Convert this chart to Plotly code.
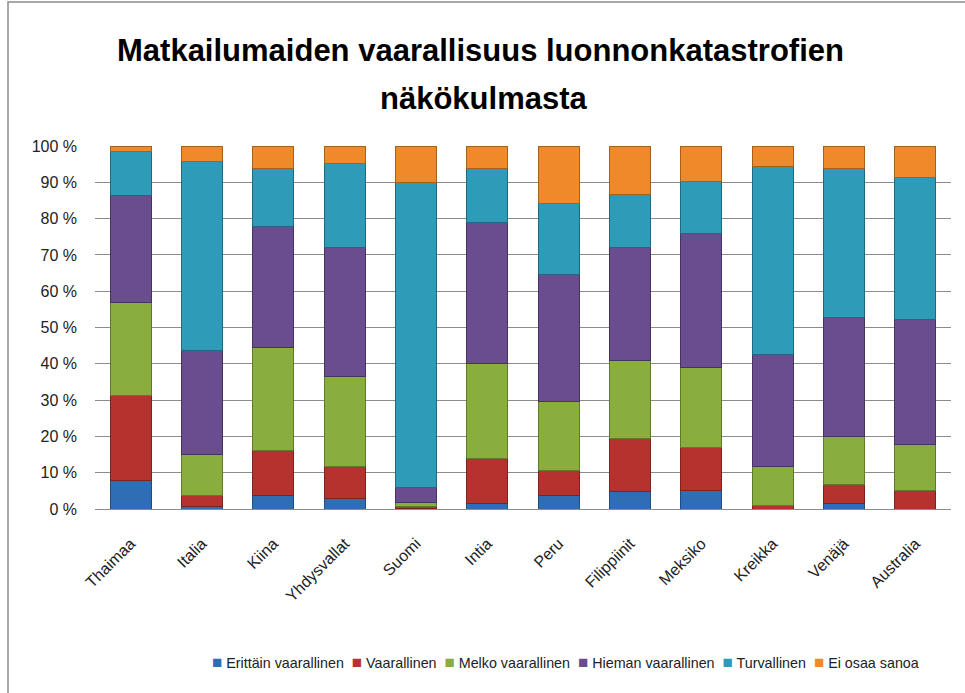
import plotly.graph_objects as go

countries = ["Thaimaa", "Italia", "Kiina", "Yhdysvallat", "Suomi", "Intia", "Peru",
             "Filippiinit", "Meksiko", "Kreikka", "Venäjä", "Australia"]

erittain = [7.8, 0.6, 3.7, 2.8, 0.2, 1.6, 3.6, 4.8, 5.1, 0.0, 1.4, 0.0]
vaarallinen = [23.4, 3.1, 12.4, 9.0, 0.4, 12.2, 6.9, 14.5, 11.9, 0.9, 5.4, 5.1]
melko = [25.6, 11.3, 28.4, 24.6, 1.2, 26.3, 19.0, 21.7, 22.0, 10.9, 13.1, 12.8]
hieman = [29.5, 28.8, 33.2, 35.7, 4.1, 38.8, 35.1, 31.0, 36.8, 30.8, 32.8, 34.4]
turvallinen = [12.1, 52.0, 16.1, 23.2, 84.1, 15.0, 19.6, 14.7, 14.5, 51.8, 41.1, 39.0]
ei_osaa = [1.6, 4.2, 6.2, 4.7, 10.0, 6.1, 15.8, 13.3, 9.7, 5.6, 6.2, 8.7]

y_ticks = list(range(0, 101, 10))
y_tick_labels = [f"{v} %" for v in y_ticks]

series = [
    ("Erittäin vaarallinen", erittain, "#2F6DB5", "#1F4E85"),
    ("Vaarallinen", vaarallinen, "#B5322F", "#7E2220"),
    ("Melko vaarallinen", melko, "#8AAE3E", "#5F7A2A"),
    ("Hieman vaarallinen", hieman, "#6A4D8E", "#47335F"),
    ("Turvallinen", turvallinen, "#2E9BB8", "#1D6A80"),
    ("Ei osaa sanoa", ei_osaa, "#EE8A2A", "#A85F1A"),
]

font_main = "Liberation Sans, Arial, sans-serif"

fig = go.Figure()
for name, vals, col, edge in series:
    fig.add_trace(go.Bar(
        x=countries, y=vals, name=name,
        marker=dict(color=col, line=dict(color=edge, width=1)),
    ))

# custom compact legend (text), drawn as one centered annotation
legend_parts = []
for name, vals, col, edge in series:
    legend_parts.append(
        f"<span style='color:{col};font-size:17px'>■</span> {name}"
    )
legend_text = "  ".join(legend_parts)

PL, PR, PT, PB = 95, 951, 146, 509
PW, PH = PR - PL, PB - PT


def px_x(x):
    return (x - PL) / PW


def px_y(y):
    return (PB - y) / PH


fig.update_layout(
    barmode="stack",
    bargap=0.425,
    width=965, height=693,
    margin=dict(l=PL, r=965 - PR, t=PT, b=693 - PB),
    paper_bgcolor="white",
    plot_bgcolor="white",
    font=dict(family=font_main, size=16, color="#222222"),
    showlegend=False,
    xaxis=dict(tickangle=-45, showgrid=False, showline=True, linecolor="#8C8C8C",
               tickfont=dict(size=16, family=font_main), ticks="",
               ticklabelstandoff=18),
    yaxis=dict(range=[0, 100], tickmode="array", tickvals=y_ticks, ticktext=y_tick_labels,
               showgrid=True, gridcolor="#8C8C8C", gridwidth=1, zeroline=False,
               showline=False, tickfont=dict(size=16, family=font_main),
               ticklabelstandoff=17),
    annotations=[
        dict(text="<b>Matkailumaiden vaarallisuus luonnonkatastrofien</b>", xref="paper", yref="paper",
             x=px_x(480.5), y=px_y(50), xanchor="center", yanchor="middle", showarrow=False,
             font=dict(size=31, family=font_main, color="black")),
        dict(text="<b>näkökulmasta</b>", xref="paper", yref="paper",
             x=px_x(483.5), y=px_y(98), xanchor="center", yanchor="middle", showarrow=False,
             font=dict(size=31, family=font_main, color="black")),
        dict(text=legend_text, xref="paper", yref="paper",
             x=px_x(565), y=px_y(662), xanchor="center", yanchor="middle", showarrow=False,
             font=dict(size=14.3, family=font_main, color="#222222")),
    ],
    shapes=[
        dict(type="rect", xref="paper", yref="paper",
             x0=px_x(8), x1=px_x(975),
             y0=px_y(705), y1=px_y(2),
             line=dict(color="#8C8C8C", width=1.5), fillcolor="rgba(0,0,0,0)", layer="below"),
    ],
)

fig.write_html("out.html", config={"displayModeBar": False},
               post_script="document.body.style.margin='0';")
